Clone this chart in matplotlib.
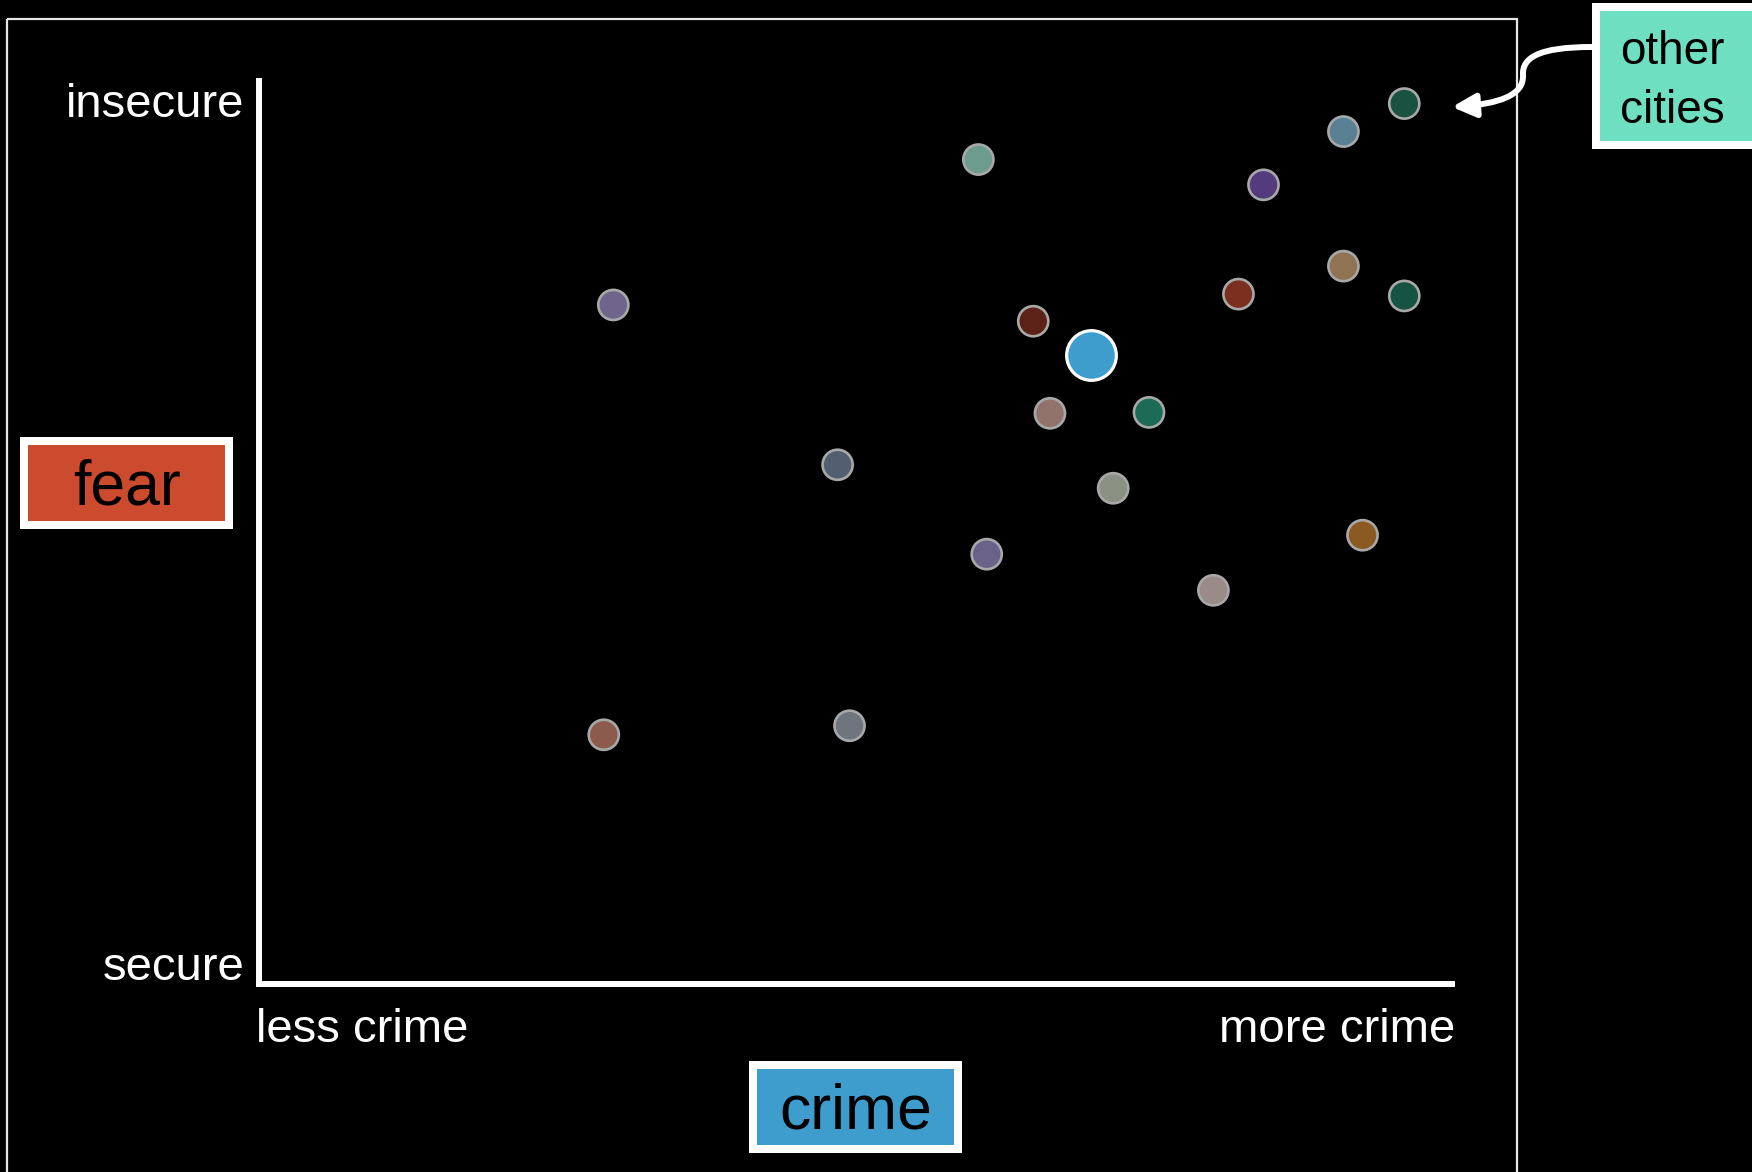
import numpy as np
import matplotlib
matplotlib.use('Agg')
import matplotlib.pyplot as plt
from matplotlib.patches import Rectangle, FancyArrowPatch
from matplotlib.path import Path

plt.rcParams['font.family'] = ['Liberation Sans', 'DejaVu Sans']

# Other cities: crime level (0 = less, 100 = more) and fear level (0 = secure, 100 = insecure)
crime = [60.3, 96.0, 90.9, 84.2, 29.7, 90.9, 96.0, 82.1, 64.9,
         66.3, 74.6, 48.5, 71.6, 61.0, 92.5, 80.0, 28.9, 49.5]
fear = [91.3, 97.5, 94.4, 88.5, 75.2, 79.5, 76.2, 76.4, 73.4,
        63.2, 63.3, 57.5, 54.9, 47.6, 49.7, 43.6, 27.6, 28.6]
colors = ['#6b9c8e', '#1a5242', '#5a8094', '#533b7d', '#6f6489', '#8f7352',
          '#175342', '#7d2f1f', '#5d2217', '#92736b', '#1b6b56', '#525f70',
          '#8b9183', '#6b6289', '#8b5a22', '#9a8b89', '#8d5b4e', '#6e757f']

# Highlighted city
hl_crime = [69.7]
hl_fear = [69.7]

W, H = 1752, 1172
fig = plt.figure(figsize=(W / 100, H / 100), dpi=100, facecolor='black')

# overlay in pixel coordinates for frame, label boxes, arrow
bg = fig.add_axes([0, 0, 1, 1])
bg.set_xlim(0, W)
bg.set_ylim(H, 0)
bg.axis('off')
bg.set_facecolor('none')

bg.add_patch(Rectangle((7, 19), 1510, 1160, fill=False, edgecolor='#e6e6e6', lw=1.6))

def label_box(x0, y0, x1, y1, color):
    bg.add_patch(Rectangle((x0, y0), x1 - x0, y1 - y0, facecolor='white', edgecolor='none'))
    bg.add_patch(Rectangle((x0 + 8, y0 + 8), x1 - x0 - 16, y1 - y0 - 16, facecolor=color, edgecolor='none'))

label_box(20, 437, 233, 529, '#cc4a2e')
bg.text(127, 488, 'fear', ha='center', va='center', color='black', fontsize=45)
label_box(749, 1061, 962, 1153, '#3f9dcd')
bg.text(856, 1112, 'crime', ha='center', va='center', color='black', fontsize=45)
label_box(1592, 3, 1760, 149, '#6fdfc2')
bg.text(1672, 52, 'other', ha='center', va='center', color='black', fontsize=33)
bg.text(1672, 111, 'cities', ha='center', va='center', color='black', fontsize=33)

verts = [(1592, 47), (1538, 47), (1522, 58), (1523, 75),
         (1524, 95), (1500, 104), (1452, 107)]
codes = [Path.MOVETO, Path.CURVE4, Path.CURVE4, Path.CURVE4,
         Path.CURVE4, Path.CURVE4, Path.CURVE4]
arrow = FancyArrowPatch(path=Path(verts, codes), arrowstyle='-|>,head_length=14,head_width=7',
                        color='white', lw=4.3, mutation_scale=1)
bg.add_patch(arrow)

# axis end labels
bg.text(244, 105, 'insecure', ha='right', va='center', color='white', fontsize=34)
bg.text(244, 968, 'secure', ha='right', va='center', color='white', fontsize=34)
bg.text(256, 1030, 'less crime', ha='left', va='center', color='white', fontsize=34)
bg.text(1455, 1030, 'more crime', ha='right', va='center', color='white', fontsize=34)

# main scatter axes
ax = fig.add_axes([259 / W, (H - 984) / H, 1193 / W, 903 / H])
ax.set_facecolor('none')
ax.set_xlim(0, 100)
ax.set_ylim(0, 100)
for side in ['top', 'right']:
    ax.spines[side].set_visible(False)
for side in ['left', 'bottom']:
    ax.spines[side].set_color('white')
    ax.spines[side].set_linewidth(4.3)
    ax.spines[side].set_capstyle('projecting')
ax.set_xticks([])
ax.set_yticks([])

ax.scatter(crime, fear, s=470, c=colors, edgecolors='#a8a8a8', linewidths=1.9, zorder=3, clip_on=False)
ax.scatter(hl_crime, hl_fear, s=1280, c='#3f9dcd', edgecolors='white', linewidths=2.3, zorder=4, clip_on=False)

plt.savefig('out.png', dpi=100, facecolor='black')
